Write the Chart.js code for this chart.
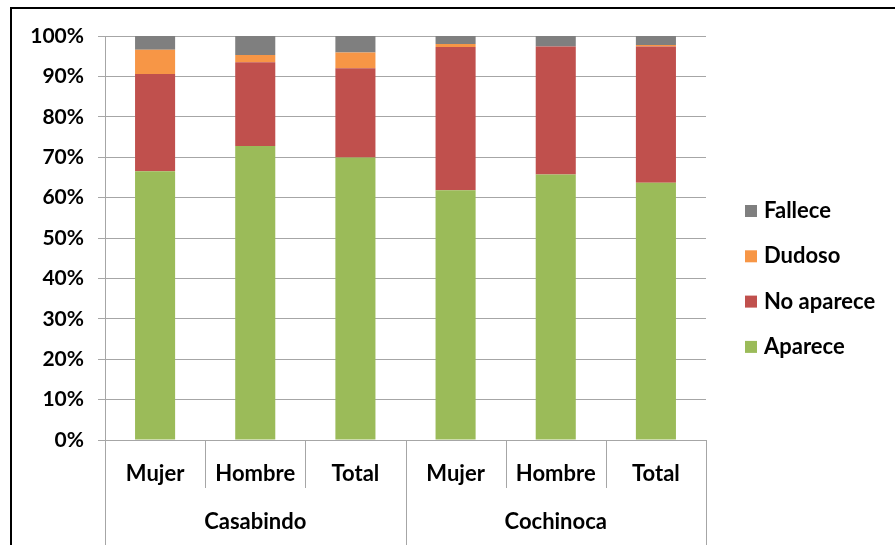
<!DOCTYPE html>
<html>
<head>
<meta charset="utf-8">
<script src="https://cdn.jsdelivr.net/npm/chart.js@4"></script>
<style>
    html, body { margin: 0; padding: 0; background: #fff; }
    #wrap { position: relative; width: 895px; height: 545px; overflow: hidden; }
    #frame { position: absolute; left: 10px; top: 7px; width: 900px; height: 560px; border: 2px solid #000; }
    #chart { position: absolute; left: 0; top: 0; }
</style>
</head>
<body>
<div id="wrap">
    <div id="frame"></div>
    <canvas id="chart" width="895" height="545"></canvas>
</div>
<script>
// Survey outcome shares by municipality and sex (percent of each column)
const categories = ['Mujer', 'Hombre', 'Total', 'Mujer', 'Hombre', 'Total'];
const groups = ['Casabindo', 'Cochinoca'];
const aparece = [66.5, 72.8, 69.9, 61.8, 65.7, 63.7];
const noAparece = [24.1, 20.7, 22.1, 35.5, 31.7, 33.7];
const dudoso = [6.0, 1.8, 3.9, 0.7, 0.0, 0.4];
const fallece = [3.4, 4.7, 4.1, 2.0, 2.6, 2.2];
const yTicks = [0, 10, 20, 30, 40, 50, 60, 70, 80, 90, 100];

const fontFamily = 'Lato, "Liberation Sans", sans-serif';
const gridColor = '#a6a6a6';

// Divider lines between categories plus the municipality labels underneath
const groupAxis = {
    id: 'groupAxis',
    afterDraw(chart) {
        const ctx = chart.ctx;
        const x = chart.scales.x;
        const top = chart.chartArea.bottom;
        const step = (x.right - x.left) / categories.length;
        ctx.save();
        ctx.strokeStyle = gridColor;
        ctx.lineWidth = 1;
        for (let i = 0; i <= categories.length; i++) {
            const px = Math.round(x.left + i * step) + 0.5;
            const end = (i % 3 === 0) ? chart.height : top + 48;
            ctx.beginPath();
            ctx.moveTo(px, top);
            ctx.lineTo(px, end);
            ctx.stroke();
        }
        ctx.fillStyle = '#000';
        ctx.font = 'bold 22px ' + fontFamily;
        ctx.textAlign = 'center';
        ctx.textBaseline = 'middle';
        groups.forEach((g, i) => {
            const cx = x.left + (i * 3 + 1.5) * step;
            ctx.fillText(g, cx, top + 82);
        });
        ctx.restore();
    }
};

// Legend on the right, top entry is the top of the stack
const sideLegend = {
    id: 'sideLegend',
    afterDraw(chart) {
        const ctx = chart.ctx;
        const sets = chart.data.datasets.slice().reverse();
        ctx.save();
        ctx.font = 'bold 22px ' + fontFamily;
        ctx.textBaseline = 'middle';
        ctx.textAlign = 'left';
        sets.forEach((ds, i) => {
            const cy = 211 + i * 45.3;
            ctx.fillStyle = ds.backgroundColor;
            ctx.fillRect(745, cy - 6, 12, 12);
            ctx.fillStyle = '#000';
            ctx.fillText(ds.label, 764, cy);
        });
        ctx.restore();
    }
};

new Chart(document.getElementById('chart'), {
    type: 'bar',
    data: {
        labels: categories,
        datasets: [
            { label: 'Aparece', data: aparece, backgroundColor: '#9bbb59' },
            { label: 'No aparece', data: noAparece, backgroundColor: '#c0504d' },
            { label: 'Dudoso', data: dudoso, backgroundColor: '#f79646' },
            { label: 'Fallece', data: fallece, backgroundColor: '#7f7f7f' }
        ]
    },
    options: {
        responsive: false,
        animation: false,
        barPercentage: 0.4,
        categoryPercentage: 1.0,
        layout: { padding: { top: 36, left: 0, right: 189, bottom: 0 } },
        plugins: {
            legend: { display: false },
            tooltip: { enabled: false }
        },
        scales: {
            x: {
                stacked: true,
                grid: { display: false },
                border: { color: gridColor },
                ticks: {
                    color: '#000',
                    padding: 13,
                    font: { family: fontFamily, size: 22, weight: 'bold' }
                },
                afterFit(scale) { scale.height = 105; }
            },
            y: {
                stacked: true,
                min: 0,
                max: 100,
                afterBuildTicks(scale) { scale.ticks = yTicks.map(v => ({ value: v })); },
                grid: { color: gridColor, tickLength: 7 },
                border: { color: gridColor },
                ticks: {
                    color: '#000',
                    padding: 14,
                    font: { family: fontFamily, size: 21, weight: 'bold' },
                    callback: v => v + '%'
                },
                afterFit(scale) { scale.width = 105; }
            }
        }
    },
    plugins: [groupAxis, sideLegend]
});
</script>
</body>
</html>
